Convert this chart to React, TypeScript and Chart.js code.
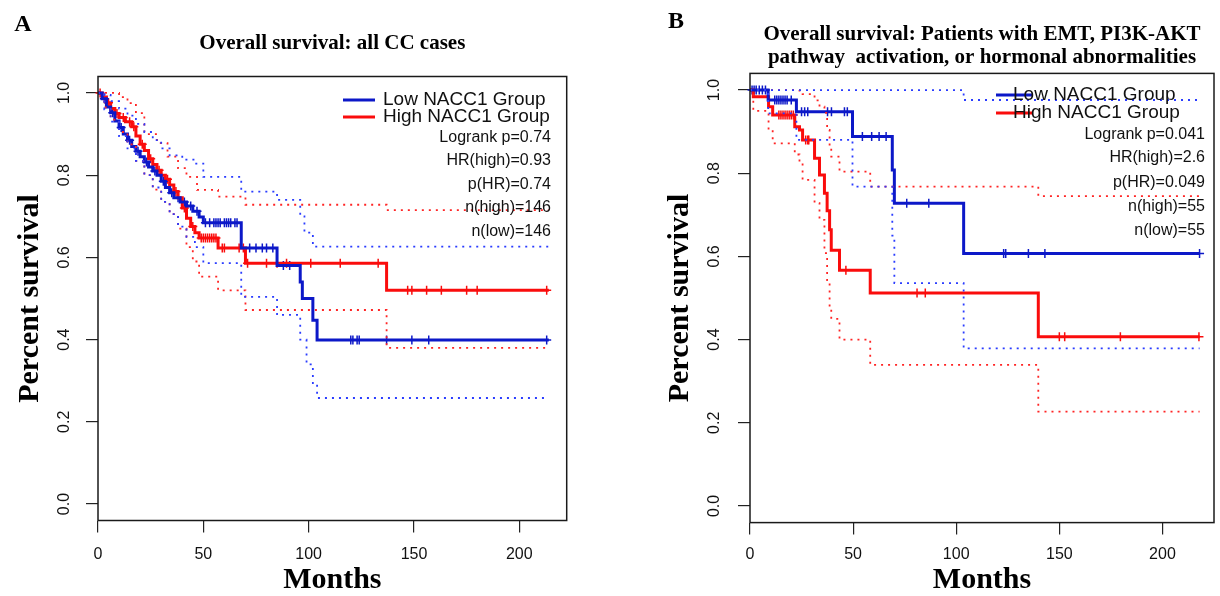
import React, { useEffect, useRef } from "react";
import { Chart, registerables } from "chart.js";

Chart.register(...registerables);

// ---------- shared axis data ----------
const X_TICKS = [0, 50, 100, 150, 200];
const Y_TICKS = [0, 0.2, 0.4, 0.6, 0.8, 1.0];
const LEGEND_LABELS = ["Low NACC1 Group", "High NACC1 Group"];

// ---------- Panel A: all CC cases ----------
const aLowT = [0, 2, 4, 6, 8, 10, 12, 14, 16, 18, 20, 22, 24, 26, 28, 30, 32, 34, 36, 39, 42, 45, 48, 50, 68, 85, 96, 97, 102, 104, 214];
const aLowS = [1.0, 0.986, 0.966, 0.952, 0.932, 0.916, 0.9, 0.885, 0.87, 0.858, 0.845, 0.832, 0.82, 0.81, 0.8, 0.785, 0.77, 0.757, 0.745, 0.735, 0.725, 0.712, 0.698, 0.684, 0.623, 0.58, 0.54, 0.5, 0.447, 0.399, 0.399];
const aLowCens = [3, 7, 11, 15, 19, 23, 27, 31, 35, 38, 41, 44, 47, 51, 53, 55, 56, 57, 58, 60, 61, 62, 63, 65, 66, 72, 75, 78, 80, 83, 88, 91, 120, 121, 123, 124, 137, 149, 157, 213];
const aLowUpT = [0, 3, 6, 10, 14, 18, 22, 26, 30, 34, 40, 46, 50, 68, 85, 96, 98, 102, 214];
const aLowUpS = [1.0, 0.995, 0.98, 0.962, 0.945, 0.925, 0.905, 0.885, 0.865, 0.848, 0.838, 0.828, 0.796, 0.76, 0.74, 0.7, 0.66, 0.626, 0.626];
const aLowLoT = [0, 3, 6, 10, 14, 18, 22, 26, 30, 34, 38, 42, 46, 50, 68, 85, 96, 99, 102, 104, 214];
const aLowLoS = [1.0, 0.96, 0.93, 0.895, 0.865, 0.835, 0.8, 0.77, 0.735, 0.705, 0.675, 0.65, 0.625, 0.586, 0.504, 0.46, 0.4, 0.34, 0.29, 0.258, 0.258];

const aHighT = [0, 2, 4, 6, 8, 10, 13, 16, 18, 20, 22, 24, 26, 28, 30, 32, 34, 36, 38, 40, 42, 44, 46, 48, 57, 70, 137, 214];
const aHighS = [1.0, 0.99, 0.976, 0.962, 0.95, 0.94, 0.93, 0.918, 0.895, 0.875, 0.86, 0.84, 0.826, 0.812, 0.8, 0.79, 0.776, 0.76, 0.745, 0.72, 0.695, 0.675, 0.66, 0.647, 0.623, 0.586, 0.52, 0.52];
const aHighCens = [1, 5, 9, 12, 15, 17, 21, 25, 29, 33, 37, 41, 45, 49, 50, 51, 52, 53, 54, 55, 56, 59, 60, 67, 69, 71, 80, 85, 89.5, 101, 115, 133, 147, 149, 156, 163, 175, 180, 213];
const aHighUpT = [0, 6, 10, 14, 18, 22, 28, 33, 38, 42, 47, 57, 70, 137, 214];
const aHighUpS = [1.0, 1.0, 0.99, 0.975, 0.951, 0.9, 0.878, 0.845, 0.817, 0.796, 0.764, 0.748, 0.728, 0.715, 0.715];
const aHighLoT = [0, 3, 6, 10, 14, 18, 22, 26, 30, 34, 38, 42, 45, 48, 57, 70, 137, 214];
const aHighLoS = [1.0, 0.965, 0.935, 0.905, 0.875, 0.835, 0.8, 0.765, 0.735, 0.705, 0.67, 0.625, 0.59, 0.553, 0.52, 0.472, 0.38, 0.38];

const aStats = ["Logrank p=0.74", "HR(high)=0.93", "p(HR)=0.74", "n(high)=146", "n(low)=146"];

// ---------- Panel B: EMT / PI3K-AKT / hormonal ----------
const bLowT = [0, 8.8, 22.5, 49.7, 69, 70, 103.6, 218];
const bLowS = [1.0, 0.976, 0.948, 0.888, 0.808, 0.728, 0.607, 0.607];
const bLowCens = [1, 2, 3, 4.5, 6, 7.5, 12, 13, 14, 15, 16, 17, 18, 20, 25, 26.5, 28, 37.6, 39.5, 45.8, 47.2, 54.5, 59, 62.6, 66, 76, 86.7, 123, 124, 135, 143, 218];
const bLowUpT = [0, 8.8, 22.5, 49.7, 69, 70, 103.6, 218];
const bLowUpS = [1.0, 1.0, 1.0, 1.0, 1.0, 1.0, 0.976, 0.976];
const bLowLoT = [0, 8.8, 22.5, 49.7, 69, 70, 103.6, 218];
const bLowLoS = [1.0, 0.944, 0.88, 0.768, 0.65, 0.536, 0.379, 0.379];

const bHighT = [0, 1.6, 9, 11, 21.7, 24, 25.5, 31.3, 33.7, 36.1, 37.4, 38.6, 39.4, 43.4, 58.3, 139.8, 218];
const bHighS = [1.0, 0.984, 0.96, 0.94, 0.912, 0.904, 0.88, 0.836, 0.796, 0.752, 0.71, 0.664, 0.615, 0.567, 0.512, 0.407, 0.407];
const bHighCens = [14, 15, 16, 17, 18, 19, 20, 21, 27, 28, 28.5, 46.5, 81, 85, 150, 152.6, 179.6, 217.7];
const bHighUpT = [0, 1.6, 9, 11, 21.7, 24, 25.5, 31.3, 33.7, 36.1, 37.4, 38.6, 39.4, 43.4, 58.3, 139.8, 218];
const bHighUpS = [1.0, 1.0, 1.0, 1.0, 1.0, 0.995, 0.99, 0.975, 0.96, 0.945, 0.904, 0.864, 0.84, 0.804, 0.768, 0.745, 0.745];
const bHighLoT = [0, 1.6, 9, 11, 21.7, 24, 25.5, 31.3, 33.7, 36.1, 37.4, 38.6, 39.4, 43.4, 58.3, 139.8, 218];
const bHighLoS = [1.0, 0.95, 0.905, 0.872, 0.845, 0.824, 0.784, 0.728, 0.688, 0.608, 0.543, 0.479, 0.45, 0.4, 0.339, 0.227, 0.227];

const bStats = ["Logrank p=0.041", "HR(high)=2.6", "p(HR)=0.049", "n(high)=55", "n(low)=55"];

// ---------- styling ----------
const SERIF = '"Liberation Serif", "Times New Roman", serif';
const SANS = '"Liberation Sans", Arial, sans-serif';
const BLUE = "#0c18c8";
const BLUE_DOT = "#2a3cff";
const RED = "#fa0c0c";
const RED_DOT = "#ff2424";

type Pt = { x: number; y: number };
const steps = (t: number[], s: number[]): Pt[] => t.map((x, i) => ({ x, y: s[i] }));
const survAt = (t: number[], s: number[], time: number) => {
  let v = s[0];
  for (let i = 0; i < t.length; i++) if (t[i] <= time) v = s[i];
  return v;
};
const censor = (c: number[], t: number[], s: number[]): Pt[] => c.map((x) => ({ x, y: survAt(t, s, x) }));

interface Curve { t: number[]; s: number[]; c: number[]; upT: number[]; upS: number[]; loT: number[]; loS: number[] }
interface Panel {
  canvasLeft: number;
  width: number;
  height: number;
  area: { left: number; top: number; right: number; bottom: number };
  xMax: number;
  letter: string;
  letterX: number;
  letterY: number;
  titleLines: string[];
  titleY: number[];
  titleSize: number;
  legLineX1: number;
  legLineX2: number;
  legTextX: number;
  legY: number[];
  legSize: number;
  stats: string[];
  statsX: number;
  statsY: number[];
  yTickPad: number;
  yTitlePad: number;
  xTickPad: number;
  low: Curve;
  high: Curve;
}

const panelA: Panel = {
  canvasLeft: 0,
  width: 610,
  height: 596,
  area: { left: 98, top: 76.5, right: 566.7, bottom: 520.5 },
  xMax: 222.5,
  letter: "A",
  letterX: 23,
  letterY: 25,
  titleLines: ["Overall survival: all CC cases"],
  titleY: [44],
  titleSize: 21,
  legLineX1: 343,
  legLineX2: 375,
  legTextX: 383,
  legY: [100, 117],
  legSize: 19,
  stats: aStats,
  statsX: 551,
  statsY: [138, 161, 185, 208, 232],
  yTickPad: 10,
  yTitlePad: 15,
  xTickPad: 14.5,
  low: { t: aLowT, s: aLowS, c: aLowCens, upT: aLowUpT, upS: aLowUpS, loT: aLowLoT, loS: aLowLoS },
  high: { t: aHighT, s: aHighS, c: aHighCens, upT: aHighUpT, upS: aHighUpS, loT: aHighLoT, loS: aHighLoS },
};

const panelB: Panel = {
  canvasLeft: 620,
  width: 600,
  height: 596,
  area: { left: 130, top: 73.4, right: 597, bottom: 522.6 },
  xMax: 225,
  letter: "B",
  letterX: 56,
  letterY: 22,
  titleLines: ["Overall survival: Patients with EMT, PI3K-AKT", "pathway  activation, or hormonal abnormalities"],
  titleY: [35, 58],
  titleSize: 21,
  legLineX1: 376,
  legLineX2: 412,
  legTextX: 393,
  legY: [95, 113],
  legSize: 19,
  stats: bStats,
  statsX: 585,
  statsY: [135, 158, 183, 207, 231],
  yTickPad: 12,
  yTitlePad: 45,
  xTickPad: 12.4,
  low: { t: bLowT, s: bLowS, c: bLowCens, upT: bLowUpT, upS: bLowUpS, loT: bLowLoT, loS: bLowLoS },
  high: { t: bHighT, s: bHighS, c: bHighCens, upT: bHighUpT, upS: bHighUpS, loT: bHighLoT, loS: bHighLoS },
};

const annotPlugin = (p: Panel) => ({
  id: "annot" + p.letter,
  afterDraw(chart: any) {
    const ctx = chart.ctx as CanvasRenderingContext2D;
    const a = chart.chartArea;
    ctx.save();
    ctx.strokeStyle = "#1a1a1a";
    ctx.lineWidth = 1.5;
    ctx.strokeRect(a.left, a.top, a.right - a.left, a.bottom - a.top);

    ctx.fillStyle = "#000";
    ctx.textAlign = "center";
    ctx.textBaseline = "middle";
    ctx.font = `bold 24px ${SERIF}`;
    ctx.fillText(p.letter, p.letterX, p.letterY);
    ctx.font = `bold ${p.titleSize}px ${SERIF}`;
    const cx = (a.left + a.right) / 2;
    p.titleLines.forEach((t, i) => ctx.fillText(t, cx, p.titleY[i]));

    // legend
    const cols = [BLUE, RED];
    ctx.font = `${p.legSize}px ${SANS}`;
    ctx.textAlign = "left";
    LEGEND_LABELS.forEach((lab, i) => {
      ctx.strokeStyle = cols[i];
      ctx.lineWidth = 3;
      ctx.beginPath();
      ctx.moveTo(p.legLineX1, p.legY[i]);
      ctx.lineTo(p.legLineX2, p.legY[i]);
      ctx.stroke();
      ctx.fillStyle = "#111";
      ctx.fillText(lab, p.legTextX, p.legY[i]);
    });
    ctx.font = `16px ${SANS}`;
    ctx.textAlign = "right";
    p.stats.forEach((s, i) => ctx.fillText(s, p.statsX, p.statsY[i]));
    ctx.restore();
  },
});

function buildConfig(p: Panel): any {
  const dotted = (data: Pt[], color: string) => ({
    data,
    borderColor: color,
    borderWidth: 1.8,
    borderDash: [2, 5],
    borderCapStyle: "butt",
    stepped: true,
    pointRadius: 0,
    fill: false,
  });
  const solid = (data: Pt[], color: string) => ({
    data,
    borderColor: color,
    borderWidth: 3,
    stepped: true,
    pointRadius: 0,
    fill: false,
  });
  const marks = (data: Pt[], color: string) => ({
    data,
    showLine: false,
    borderColor: color,
    backgroundColor: color,
    pointStyle: "cross",
    pointRadius: 4.5,
    pointBorderWidth: 1.5,
    clip: 6,
  });
  const L = p.low;
  const H = p.high;
  const gridOpts = {
    drawOnChartArea: false,
    drawTicks: true,
    tickLength: 12,
    color: "#222",
    tickColor: "#222",
    lineWidth: 1.2,
  };
  return {
    type: "line",
    data: {
      datasets: [
        dotted(steps(L.upT, L.upS), BLUE_DOT),
        dotted(steps(L.loT, L.loS), BLUE_DOT),
        dotted(steps(H.upT, H.upS), RED_DOT),
        dotted(steps(H.loT, H.loS), RED_DOT),
        solid(steps(L.t, L.s), BLUE),
        solid(steps(H.t, H.s), RED),
        marks(censor(L.c, L.t, L.s), BLUE),
        marks(censor(H.c, H.t, H.s), RED),
      ],
    },
    options: {
      animation: false,
      responsive: false,
      maintainAspectRatio: false,
      events: [],
      layout: { padding: { top: p.area.top, right: p.width - p.area.right, left: 0, bottom: 0 } },
      plugins: { legend: { display: false }, tooltip: { enabled: false }, title: { display: false } },
      elements: { line: { tension: 0 } },
      scales: {
        x: {
          type: "linear",
          min: 0,
          max: p.xMax,
          afterBuildTicks: (s: any) => {
            s.ticks = X_TICKS.map((v) => ({ value: v }));
          },
          afterFit: (s: any) => {
            s.height = p.height - p.area.bottom;
          },
          grid: gridOpts,
          border: { display: false },
          ticks: {
            autoSkip: false,
            maxRotation: 0,
            padding: p.xTickPad,
            color: "#111",
            font: { family: SANS, size: 16, lineHeight: 1 },
            callback: (v: any) => String(v),
          },
          title: {
            display: true,
            text: "Months",
            color: "#000",
            font: { family: SERIF, size: 30, weight: "bold", lineHeight: 1 },
            padding: { top: 0, bottom: 1 },
          },
        },
        y: {
          type: "linear",
          min: -0.04,
          max: 1.04,
          afterBuildTicks: (s: any) => {
            s.ticks = Y_TICKS.map((v) => ({ value: v }));
          },
          afterFit: (s: any) => {
            s.width = p.area.left;
          },
          grid: gridOpts,
          border: { display: false },
          ticks: {
            autoSkip: false,
            minRotation: 90,
            maxRotation: 90,
            crossAlign: "center",
            padding: p.yTickPad,
            color: "#111",
            font: { family: SANS, size: 16, lineHeight: 1 },
            callback: (v: any) => Number(v).toFixed(1),
          },
          title: {
            display: true,
            text: "Percent survival",
            color: "#000",
            font: { family: SERIF, size: 30, weight: "bold", lineHeight: 1 },
            padding: { top: p.yTitlePad, bottom: 0 },
          },
        },
      },
    },
    plugins: [annotPlugin(p)],
  };
}

function PanelChart({ p }: { p: Panel }) {
  const ref = useRef<HTMLCanvasElement | null>(null);
  useEffect(() => {
    if (!ref.current) return;
    const chart = new Chart(ref.current, buildConfig(p));
    return () => chart.destroy();
  }, [p]);
  return (
    <canvas
      ref={ref}
      width={p.width}
      height={p.height}
      style={{ position: "absolute", left: p.canvasLeft, top: 0, width: p.width, height: p.height }}
    />
  );
}

export default function App() {
  return (
    <div style={{ position: "fixed", left: 0, top: 0, width: 1220, height: 596, background: "#fff", overflow: "hidden" }}>
      <PanelChart p={panelA} />
      <PanelChart p={panelB} />
    </div>
  );
}
